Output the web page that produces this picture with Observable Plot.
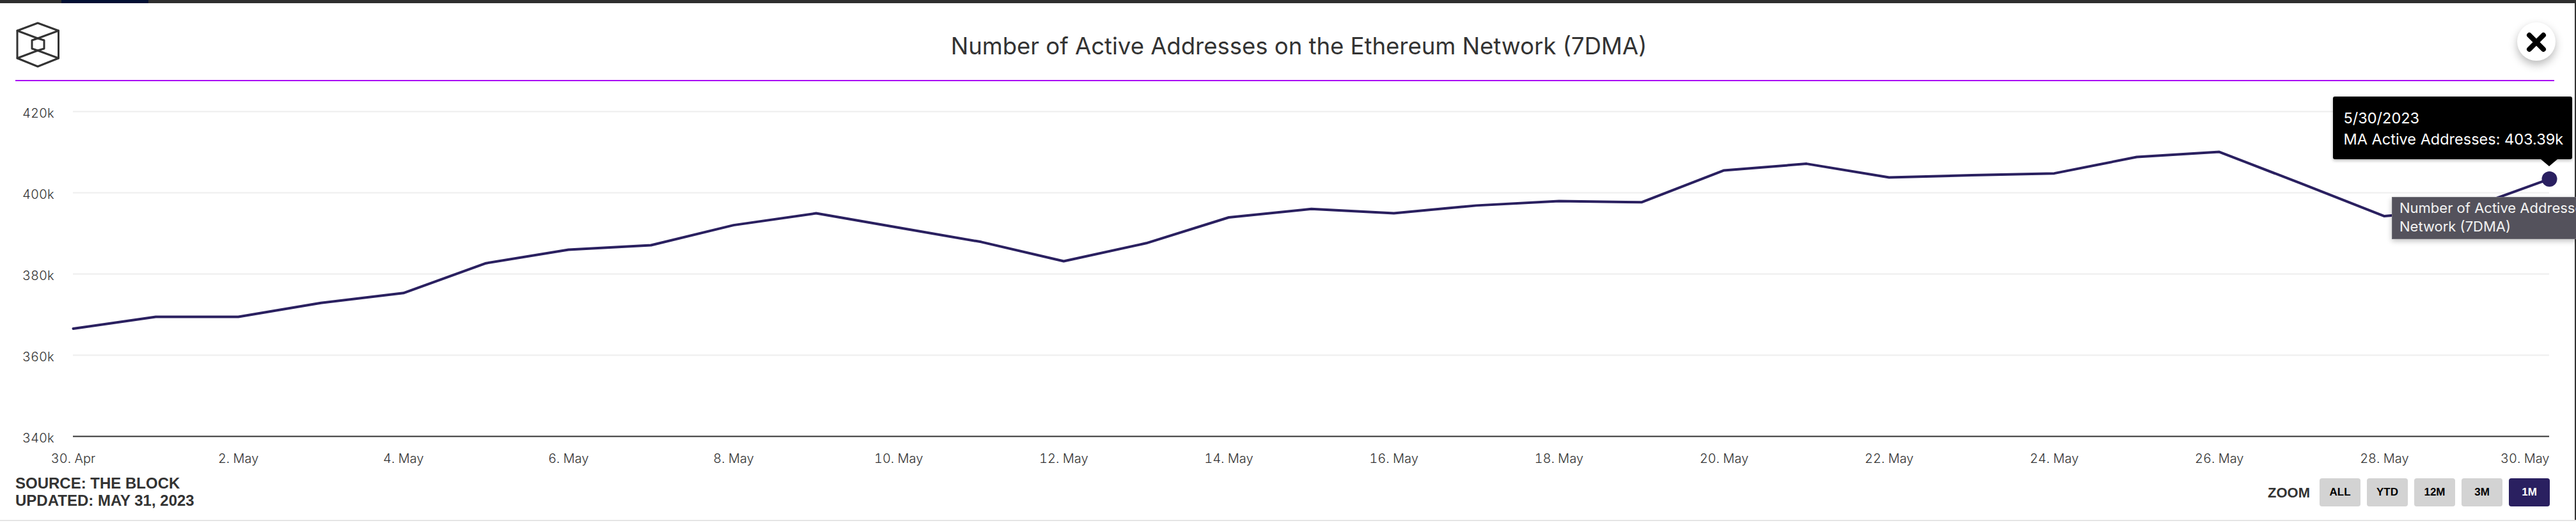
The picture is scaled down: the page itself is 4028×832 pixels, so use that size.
<!DOCTYPE html>
<html>
<head>
<meta charset="utf-8">
<script src="https://cdn.jsdelivr.net/npm/d3@7"></script>
<script src="https://cdn.jsdelivr.net/npm/@observablehq/plot@0.6"></script>
<style>
html,body{margin:0;padding:0;background:#fff;overflow:hidden}
#page{position:relative;width:4028px;height:832px;overflow:hidden;font-family:Inter,sans-serif;color:#333}
#page>*{position:absolute}
#chart svg{display:block;overflow:visible}
.strip{left:0;top:0;width:4028px;height:5px;background:#2f2f2f}
.navy{left:96px;top:0;width:136px;height:5px;background:#021033}
.edge{left:4026px;top:5px;width:2px;height:809px;background:#333}
.foot{left:0;top:813px;width:4028px;height:2px;background:#e5e5e5}
.rule{left:24px;top:125px;width:3970px;height:2px;background:#a800f5}
.title{left:0;width:4062px;top:49px;text-align:center;font-size:36.5px;line-height:46px;white-space:nowrap}
.source{left:24px;top:742px;font:bold 24px/27px "Liberation Sans",Arial,sans-serif;color:#333;white-space:nowrap}
.zoomlab{left:3546px;top:758px;font:bold 22px/26px "Liberation Sans",Arial,sans-serif;color:#333}
.btn{top:748px;width:64px;height:44px;border-radius:4px;background:#d3d3d3;color:#000;text-align:center;font:bold 17px/44px "Liberation Sans",Arial,sans-serif}
.btn.on{background:#2a2060;color:#fff}
.tip{left:3648px;top:151px;width:374px;height:98px;border-radius:3px;background:#000;color:#fff;font-size:23.5px;line-height:33px;box-shadow:0 2px 5px rgba(0,0,0,.3)}
.tip div{position:absolute;left:16.5px;white-space:nowrap}
.arrow{left:3973px;top:249px;width:0;height:0;border-left:13px solid transparent;border-right:13px solid transparent;border-top:11px solid #000}
.gray{left:3740px;top:308px;width:290px;height:66px;background:#54525c;border:1px solid #6e6d75;box-sizing:border-box;color:#f2f2f2;font-size:22px;line-height:29px;white-space:nowrap;overflow:hidden;box-shadow:0 3px 8px rgba(0,0,0,.25)}
.gray div{position:absolute;left:11px}
.close{left:3936px;top:35px;width:60px;height:60px;border-radius:50%;background:#fff;box-shadow:0 6px 14px rgba(0,0,0,.28)}
</style>
</head>
<body>
<div id="page">
  <div class="strip"></div><div class="navy"></div><div class="edge"></div><div class="foot"></div>
  <div id="chart" style="left:0;top:0"></div>
  <div class="rule"></div>
  <div class="title">Number of Active Addresses on the Ethereum Network (7DMA)</div>
  <svg style="left:0;top:0" width="120" height="120" viewBox="0 0 120 120" fill="none" stroke="#333" stroke-width="3" stroke-linejoin="round" stroke-linecap="round">
    <path d="M59 36 L91.5 48 L91.5 91 L59 104 L27 91 L27 48 Z"/>
    <path d="M27 48 L59 60 L91.5 48 M27 91 L59 79 L91.5 91"/>
    <path d="M59 60 L69 63 L69 76 L59 79 L50 76 L50 63 Z"/>
  </svg>
  <div class="source">SOURCE: THE BLOCK<br>UPDATED: MAY 31, 2023</div>
  <div class="zoomlab">ZOOM</div>
  <div class="btn" style="left:3627px">ALL</div>
  <div class="btn" style="left:3701px">YTD</div>
  <div class="btn" style="left:3775px">12M</div>
  <div class="btn" style="left:3849px">3M</div>
  <div class="btn on" style="left:3923px">1M</div>
  <div class="tip"><div style="top:17px">5/30/2023</div><div style="top:50px">MA Active Addresses: 403.39k</div></div>
  <div class="arrow"></div>
  <div class="gray"><div style="top:2px">Number of Active Addresses on the Ethereum</div><div style="top:31px">Network (7DMA)</div></div>
  <div class="close"></div>
  <svg style="left:3950px;top:50px" width="32" height="32" viewBox="0 0 32 32"><path d="M5 5 L27 27 M27 5 L5 27" stroke="#000" stroke-width="8" stroke-linecap="round"/></svg>
</div>
<script>
const dates = ["2023-04-30","2023-05-01","2023-05-02","2023-05-03","2023-05-04","2023-05-05","2023-05-06","2023-05-07","2023-05-08","2023-05-09","2023-05-10","2023-05-11","2023-05-12","2023-05-13","2023-05-14","2023-05-15","2023-05-16","2023-05-17","2023-05-18","2023-05-19","2023-05-20","2023-05-21","2023-05-22","2023-05-23","2023-05-24","2023-05-25","2023-05-26","2023-05-27","2023-05-28","2023-05-29","2023-05-30"];
const activeAddresses = [366530,369450,369450,372880,375300,382650,385980,387090,392030,394950,391420,387900,383160,387590,393940,396010,394950,396870,397970,397670,405530,407150,403770,404320,404780,408810,410070,402210,394250,396060,403390];
const yTicks = [340000,360000,380000,400000,420000];
const xTicks = ["2023-04-30","2023-05-02","2023-05-04","2023-05-06","2023-05-08","2023-05-10","2023-05-12","2023-05-14","2023-05-16","2023-05-18","2023-05-20","2023-05-22","2023-05-24","2023-05-26","2023-05-28","2023-05-30"];

const table = dates.map((d,i)=>({date:new Date(d),value:activeAddresses[i]}));
const tickDates = xTicks.map(d=>new Date(d));
const fmt = d3.utcFormat("%-d. %b");
const lineColor = "#2a2060";

const plot = Plot.plot({
  width:4028, height:832,
  marginLeft:114, marginRight:42, marginTop:174, marginBottom:150,
  style:{fontFamily:"Inter, sans-serif",fontSize:"20px",background:"transparent",color:"#333"},
  x:{type:"utc",domain:[table[0].date,table[table.length-1].date]},
  y:{domain:[340000,420000]},
  marks:[
    Plot.ruleY(yTicks.slice(1),{stroke:"#eeeeee",strokeWidth:2}),
    Plot.ruleY([340000],{stroke:"#333",strokeWidth:2}),
    Plot.axisY({ticks:yTicks,tickSize:0,tickPadding:30,label:null,dy:3,tickFormat:d=>(d/1000)+"k",fontWeight:300}),
    Plot.axisX({ticks:tickDates.slice(0,-1),tickSize:0,tickPadding:27,label:null,tickFormat:fmt,fontWeight:300}),
    Plot.axisX({ticks:tickDates.slice(-1),tickSize:0,tickPadding:27,label:null,tickFormat:fmt,textAnchor:"end",fontWeight:300}),
    Plot.line(table,{x:"date",y:"value",stroke:lineColor,strokeWidth:4}),
    Plot.dot(table.slice(-1),{x:"date",y:"value",r:12,fill:lineColor})
  ]
});
document.getElementById("chart").appendChild(plot);
</script>
</body>
</html>
